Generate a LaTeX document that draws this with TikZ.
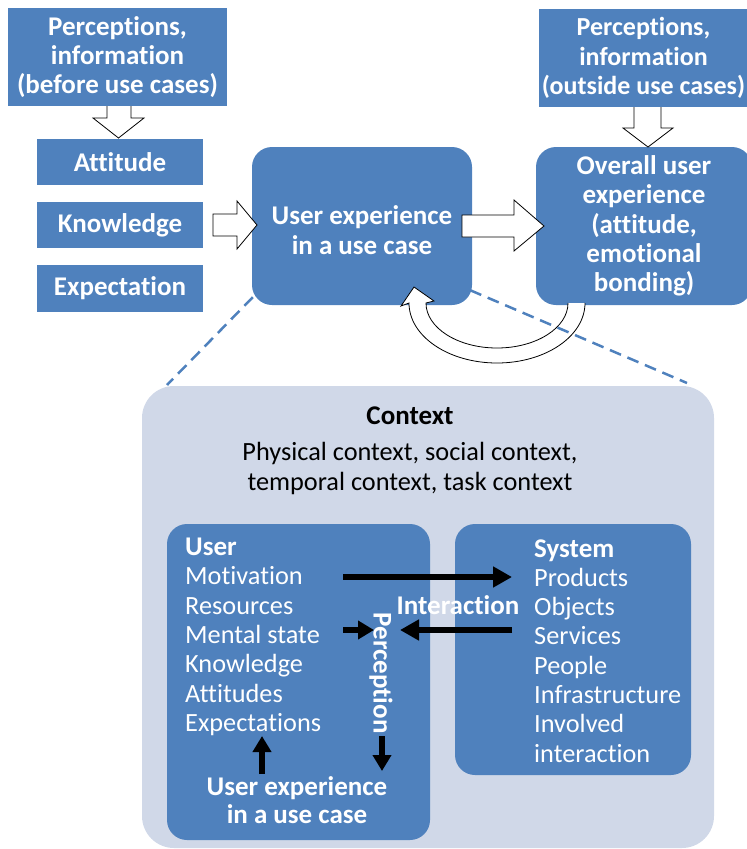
\documentclass[tikz,border=0pt]{standalone}
\usepackage{fontspec}
\setmainfont{Carlito}[Ligatures=NoCommon]
\usetikzlibrary{arrows.meta,calc}
\definecolor{boxblue}{HTML}{4F81BD}
\definecolor{ctxfill}{HTML}{D0D8E8}
\begin{document}
\begin{tikzpicture}[x=1pt,y=-1pt,
  txt/.style={font=\fontsize{26.3}{29.3}\selectfont, inner sep=0pt},
  btxt/.style={font=\bfseries\fontsize{27}{29.3}\selectfont, inner sep=0pt},
  bluebox/.style={fill=boxblue, draw=none, text=white, btxt, align=center},
  blockarrow/.style={fill=white, draw=black, line width=0.8pt, line join=miter},
  thickarrow/.style={draw=black, line width=5.5pt, -{Triangle[length=19pt,width=20pt]}},
  shortarrow/.style={draw=black, line width=5.5pt, -{Triangle[length=16pt,width=18pt]}},
  dashline/.style={draw=boxblue, line width=2.5pt, dash pattern=on 12pt off 7pt}
]
\useasboundingbox (0,0) rectangle (747,849);
\clip (0,0) rectangle (747,849);

% ---------- top part ----------
\node[bluebox, minimum width=219pt, minimum height=98pt] (before) at (117.5,57)
  {Perceptions,\\information\\(before use cases)};
\node[bluebox, minimum width=166pt, minimum height=46pt] (att) at (120,162) {Attitude};
\node[bluebox, minimum width=166pt, minimum height=46pt] (know) at (120,225) {Knowledge};
\node[bluebox, minimum width=166pt, minimum height=47pt] (expect) at (120,288.5) {Expectation};

\node[bluebox, minimum width=216pt, minimum height=98pt] (outside) at (647,58) {};
\node[text=white, align=center, inner sep=0pt, font=\bfseries\fontsize{26}{29.3}\selectfont] (outsidet) at (643.5,58)
  {Perceptions,\\information\\(outside use cases)};

\node[fill=boxblue, rounded corners=20pt, minimum width=220pt, minimum height=158pt, inner sep=0pt] (ux) at (362,226) {};
\node[btxt, text=white, align=center] (uxt) at (362,230) {User experience\\in a use case};

\node[fill=boxblue, rounded corners=20pt, minimum width=216pt, minimum height=158pt, inner sep=0pt] (overall) at (644,226) {};
\node[btxt, text=white, align=center] (overallt) at (644,226)
  {Overall user\\experience\\(attitude,\\emotional\\bonding)};

% block arrows
\filldraw[blockarrow] (107,106) -- (107,118) -- (93,118) -- (118.5,138) -- (144,118) -- (131,118) -- (131,106);
\filldraw[blockarrow] (213,214) -- (237,214) -- (237,201) -- (257,225) -- (237,249) -- (237,236) -- (213,236) -- cycle;
\filldraw[blockarrow] (462,215) -- (514,215) -- (514,200) -- (544,226) -- (514,251) -- (514,237) -- (462,237) -- cycle;
\filldraw[blockarrow] (634,107) -- (634,128) -- (623,128) -- (648,147) -- (673,128) -- (661,128) -- (661,107);

% curved feedback arrow
\filldraw[blockarrow] (585,303) arc[start angle=0, end angle=180, x radius=88, y radius=60]
  -- (401,306) -- (414,287) -- (434,301) -- (426,303)
  arc[start angle=180, end angle=0, x radius=71, y radius=45];

% dashed zoom lines
\coordinate (dl1) at ($(ux.south west)+(1,-8)$);
\coordinate (dl2) at ($(ux.south east)+(-2,-15)$);
\coordinate (cl1) at (167,385);
\coordinate (cl2) at (687,383);
\draw[dashline] (dl1) -- (cl1);
\draw[dashline] (dl2) -- (cl2);

% ---------- context panel ----------
\node[fill=ctxfill, rounded corners=32pt, minimum width=572pt, minimum height=462pt, inner sep=0pt] (ctx) at (428,617) {};
\node[btxt, anchor=base] (ctxt) at (410,424) {Context};
\node[txt, anchor=base] (ctx1) at (410,460) {Physical context, social context,};
\node[txt, anchor=base] (ctx2) at (410,490) {temporal context, task context};

\node[fill=boxblue, rounded corners=20pt, minimum width=263pt, minimum height=316pt, inner sep=0pt] (user) at (298.5,682) {};
\node[fill=boxblue, rounded corners=20pt, minimum width=236pt, minimum height=251pt, inner sep=0pt] (system) at (573,649.5) {};

\node[btxt, text=white, anchor=base west] (uhead) at (185,555.5) {User};
\foreach \t [count=\i from 0] in {Motivation,Resources,Mental state,Knowledge,Attitudes,Expectations}
  \node[txt, text=white, anchor=base west] (u\i) at (185,584.8+29.3*\i) {\t};

\node[btxt, text=white, anchor=base west] (shead) at (534,557) {System};
\foreach \t [count=\i from 0] in {Products,Objects,Services,People,Infrastructure,Involved,interaction}
  \node[txt, text=white, anchor=base west] (s\i) at (534,586.3+29.3*\i) {\t};

\node[btxt, text=white, align=center, anchor=base] (uxb1) at (297,795) {User experience};
\node[btxt, text=white, align=center, anchor=base] (uxb2) at (297,823) {in a use case};

\node[btxt, text=white] (inter) at (458,605) {Interaction};
\node[btxt, text=white, rotate=-90] (perc) at (381,673) {Perception};

% black arrows
\coordinate (m1) at (343,577);
\coordinate (m2) at (512,577);
\coordinate (ms1) at (343,630);
\coordinate (ms2) at (374,630);
\coordinate (b1) at (512,630);
\coordinate (b2) at (400,630);
\coordinate (p1) at (382,736);
\coordinate (p2) at (382,771);
\coordinate (e1) at (262,774);
\coordinate (e2) at (262,736);
\draw[thickarrow] (m1) -- (m2);
\draw[shortarrow] (ms1) -- (ms2);
\draw[thickarrow] (b1) -- (b2);
\draw[shortarrow] (p1) -- (p2);
\draw[shortarrow] (e1) -- (e2);
\end{tikzpicture}
\end{document}
